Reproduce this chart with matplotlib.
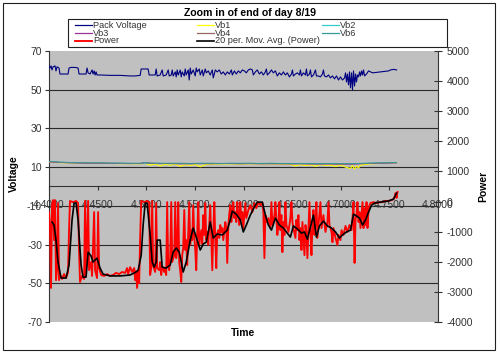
import matplotlib
matplotlib.use("Agg")
import matplotlib.pyplot as plt
from matplotlib.patches import Rectangle
from matplotlib.lines import Line2D
import numpy as np

plt.rcParams['font.family'] = ['Liberation Sans', 'DejaVu Sans']

# ---------------- data (time in days) ----------------
pack_t = [4.4000, 4.4010, 4.4021, 4.4031, 4.4041, 4.4062, 4.4072, 4.4082, 4.4103, 4.4113,
          4.4134, 4.4165, 4.4196, 4.4206, 4.4227, 4.4268, 4.4299, 4.4309, 4.4350, 4.4381,
          4.4391, 4.4402, 4.4422, 4.4443, 4.4453, 4.4464, 4.4474, 4.4484, 4.4494, 4.4525,
          4.4628, 4.4731, 4.4834, 4.4886, 4.4937, 4.4948, 4.4989, 4.5019, 4.5030, 4.5061,
          4.5092, 4.5102, 4.5112, 4.5143, 4.5164, 4.5174, 4.5205, 4.5226, 4.5236, 4.5257,
          4.5267, 4.5277, 4.5298, 4.5308, 4.5318, 4.5329, 4.5349, 4.5360, 4.5370, 4.5391,
          4.5401, 4.5411, 4.5432, 4.5442, 4.5452, 4.5463, 4.5483, 4.5504, 4.5514, 4.5524,
          4.5545, 4.5555, 4.5576, 4.5586, 4.5607, 4.5617, 4.5638, 4.5658, 4.5679, 4.5689,
          4.5710, 4.5730, 4.5751, 4.5772, 4.5792, 4.5813, 4.5833, 4.5854, 4.5875, 4.5885,
          4.5906, 4.5926, 4.5947, 4.5967, 4.5988, 4.6009, 4.6029, 4.6050, 4.6070, 4.6091,
          4.6101, 4.6122, 4.6142, 4.6163, 4.6184, 4.6204, 4.6225, 4.6235, 4.6245, 4.6266,
          4.6287, 4.6307, 4.6328, 4.6348, 4.6369, 4.6390, 4.6410, 4.6431, 4.6451, 4.6472,
          4.6493, 4.6503, 4.6513, 4.6534, 4.6554, 4.6575, 4.6585, 4.6596, 4.6616, 4.6637,
          4.6647, 4.6657, 4.6678, 4.6688, 4.6699, 4.6719, 4.6740, 4.6750, 4.6771, 4.6791,
          4.6812, 4.6822, 4.6832, 4.6853, 4.6874, 4.6894, 4.6915, 4.6936, 4.6956, 4.6977,
          4.6997, 4.7018, 4.7039, 4.7049, 4.7059, 4.7069, 4.7080, 4.7090, 4.7100, 4.7111,
          4.7121, 4.7131, 4.7142, 4.7152, 4.7162, 4.7172, 4.7183, 4.7193, 4.7203, 4.7214,
          4.7224, 4.7234, 4.7245, 4.7265, 4.7286, 4.7327, 4.7409, 4.7492, 4.7512, 4.7543,
          4.7574]
pack_v = [62.3, 61.2, 62.3, 60.2, 61.8, 62.3, 59.7, 61.8, 61.2, 58.1,
          58.1, 58.1, 58.1, 61.2, 61.5, 61.5, 61.2, 58.1, 58.1, 58.1,
          61.2, 58.7, 58.1, 60.2, 58.1, 59.7, 57.6, 59.2, 57.6, 57.6,
          57.4, 57.4, 57.1, 57.1, 57.4, 60.7, 60.7, 60.7, 57.6, 57.6,
          57.6, 60.7, 57.1, 57.6, 60.2, 57.1, 57.6, 60.2, 57.1, 57.6,
          60.2, 57.1, 59.2, 56.6, 60.2, 57.6, 60.2, 56.6, 59.2, 57.1,
          60.7, 57.6, 60.2, 55.0, 61.2, 58.1, 60.2, 57.1, 61.2, 59.2,
          60.7, 57.6, 60.2, 57.1, 60.7, 58.7, 59.7, 57.6, 60.2, 56.1,
          60.2, 59.2, 60.2, 58.1, 59.2, 57.6, 59.2, 58.1, 60.2, 57.6,
          59.7, 58.1, 59.7, 58.7, 60.2, 59.7, 58.7, 60.2, 60.7, 60.2,
          57.6, 59.2, 60.2, 58.1, 59.2, 57.6, 59.2, 60.7, 57.6, 58.7,
          60.2, 58.7, 59.7, 57.1, 58.7, 57.6, 59.2, 57.6, 58.7, 56.6,
          58.1, 60.2, 57.1, 58.1, 58.7, 57.6, 60.2, 57.1, 58.7, 57.6,
          60.7, 57.1, 58.1, 60.2, 56.6, 57.6, 60.2, 57.1, 57.1, 56.6,
          58.1, 60.2, 57.1, 56.6, 57.6, 56.1, 57.1, 55.6, 57.1, 55.0,
          56.6, 55.0, 56.1, 58.7, 54.0, 58.1, 52.5, 59.2, 50.9, 58.7,
          49.9, 59.7, 51.9, 58.1, 54.0, 57.6, 56.6, 59.2, 57.1, 59.7,
          57.6, 60.2, 57.1, 58.1, 59.7, 58.7, 59.2, 59.7, 60.2, 60.5,
          60.2]

vb_t = [4.4000, 4.4113, 4.4216, 4.4319, 4.4422, 4.4525, 4.4628, 4.4731, 4.4834, 4.4937,
        4.4989, 4.5040, 4.5143, 4.5246, 4.5349, 4.5452, 4.5555, 4.5658, 4.5761, 4.5864,
        4.5967, 4.6070, 4.6173, 4.6276, 4.6379, 4.6482, 4.6585, 4.6688, 4.6791, 4.6894,
        4.6997, 4.7100, 4.7203, 4.7306, 4.7409, 4.7512, 4.7574]
vb2 = [12.9, 12.5, 12.3, 12.2, 12.1, 12.1, 12.0, 12.0, 11.9, 11.9, 12.0, 11.9, 11.9, 11.8,
       11.9, 11.8, 11.9, 11.9, 11.8, 11.9, 11.9, 11.9, 11.8, 11.9, 11.8, 11.8, 11.8, 11.8,
       11.7, 11.8, 11.7, 11.7, 11.9, 12.0, 12.1, 12.2, 12.3]
vb3 = [12.7, 12.4, 12.3, 12.1, 12.0, 12.1, 12.0, 11.9, 11.9, 11.8, 12.3, 12.0, 11.9, 11.8,
       11.8, 11.7, 11.9, 11.8, 11.8, 11.9, 11.8, 11.8, 11.7, 11.8, 11.7, 11.7, 11.8, 11.7,
       11.6, 11.7, 11.6, 11.5, 11.8, 11.9, 12.0, 12.1, 12.2]
vb4 = [12.8, 12.4, 12.2, 12.2, 12.0, 12.0, 11.9, 11.9, 11.8, 11.9, 12.4, 11.9, 11.8, 11.9,
       11.7, 11.8, 11.8, 11.7, 11.9, 11.8, 11.7, 11.9, 11.8, 11.7, 11.8, 11.7, 11.7, 11.6,
       11.7, 11.6, 11.5, 11.6, 11.7, 11.9, 12.0, 12.2, 12.3]
vb6 = [13.0, 12.6, 12.4, 12.3, 12.2, 12.2, 12.1, 12.1, 12.0, 12.0, 12.4, 12.1, 12.0, 12.0,
       12.0, 11.9, 12.0, 12.0, 11.9, 12.0, 12.0, 12.0, 11.9, 12.0, 11.9, 11.9, 11.9, 11.9,
       11.8, 11.9, 11.8, 11.8, 11.9, 12.1, 12.2, 12.3, 12.4]

vb1_t = [4.4000, 4.4113, 4.4216, 4.4319, 4.4422, 4.4525, 4.4628, 4.4731, 4.4834, 4.4937,
         4.4989, 4.5040, 4.5092, 4.5143, 4.5195, 4.5246, 4.5298, 4.5349, 4.5401, 4.5452,
         4.5504, 4.5555, 4.5607, 4.5658, 4.5761, 4.5864, 4.5967, 4.6070, 4.6173, 4.6276,
         4.6379, 4.6482, 4.6534, 4.6585, 4.6637, 4.6688, 4.6740, 4.6791, 4.6843, 4.6894,
         4.6946, 4.6997, 4.7049, 4.7100, 4.7121, 4.7142, 4.7162, 4.7183, 4.7203, 4.7255,
         4.7306, 4.7409, 4.7512, 4.7574]
vb1 = [12.6, 12.3, 12.2, 12.0, 11.9, 12.0, 11.9, 11.8, 11.8, 11.7,
       11.9, 11.0, 11.6, 10.6, 11.5, 10.9, 11.6, 10.4, 11.3, 10.8,
       11.4, 10.2, 11.2, 11.5, 11.6, 11.7, 11.6, 11.7, 11.6, 11.7,
       11.5, 11.4, 10.6, 11.3, 10.8, 11.2, 10.4, 11.3, 10.9, 11.0,
       10.3, 11.1, 10.0, 9.3, 10.8, 9.0, 10.5, 9.6, 11.0, 11.4,
       11.7, 11.9, 12.1, 12.2]

power_t = [4.4000, 4.4010, 4.4021, 4.4031, 4.4041, 4.4052, 4.4062, 4.4072, 4.4082, 4.4093,
           4.4103, 4.4113, 4.4134, 4.4155, 4.4175, 4.4196, 4.4206, 4.4216, 4.4247, 4.4278,
           4.4299, 4.4309, 4.4319, 4.4340, 4.4361, 4.4371, 4.4381, 4.4402, 4.4412, 4.4433,
           4.4443, 4.4464, 4.4474, 4.4494, 4.4505, 4.4515, 4.4536, 4.4567, 4.4597, 4.4628,
           4.4659, 4.4690, 4.4721, 4.4752, 4.4783, 4.4803, 4.4814, 4.4834, 4.4855, 4.4876,
           4.4886, 4.4896, 4.4906, 4.4917, 4.4927, 4.4937, 4.4948, 4.4979, 4.5009, 4.5030,
           4.5040, 4.5051, 4.5061, 4.5071, 4.5092, 4.5102, 4.5112, 4.5133, 4.5143, 4.5154,
           4.5164, 4.5185, 4.5195, 4.5205, 4.5215, 4.5226, 4.5236, 4.5246, 4.5257, 4.5267,
           4.5288, 4.5298, 4.5308, 4.5318, 4.5329, 4.5339, 4.5349, 4.5360, 4.5370, 4.5380,
           4.5391, 4.5401, 4.5411, 4.5421, 4.5432, 4.5442, 4.5452, 4.5463, 4.5473, 4.5483,
           4.5494, 4.5504, 4.5514, 4.5524, 4.5535, 4.5545, 4.5555, 4.5566, 4.5576, 4.5586,
           4.5597, 4.5607, 4.5617, 4.5627, 4.5638, 4.5648, 4.5658, 4.5669, 4.5679, 4.5689,
           4.5700, 4.5710, 4.5720, 4.5730, 4.5741, 4.5751, 4.5761, 4.5772, 4.5782, 4.5792,
           4.5803, 4.5813, 4.5823, 4.5833, 4.5844, 4.5854, 4.5864, 4.5875, 4.5885, 4.5895,
           4.5906, 4.5916, 4.5926, 4.5936, 4.5947, 4.5957, 4.5967, 4.5978, 4.5988, 4.5998,
           4.6009, 4.6019, 4.6029, 4.6050, 4.6070, 4.6091, 4.6112, 4.6132, 4.6153, 4.6173,
           4.6194, 4.6204, 4.6215, 4.6225, 4.6235, 4.6256, 4.6276, 4.6287, 4.6297, 4.6318,
           4.6328, 4.6338, 4.6348, 4.6359, 4.6369, 4.6379, 4.6390, 4.6400, 4.6410, 4.6421,
           4.6431, 4.6441, 4.6462, 4.6482, 4.6493, 4.6503, 4.6513, 4.6534, 4.6544, 4.6554,
           4.6565, 4.6575, 4.6585, 4.6596, 4.6606, 4.6616, 4.6627, 4.6637, 4.6647, 4.6657,
           4.6668, 4.6678, 4.6688, 4.6699, 4.6709, 4.6719, 4.6730, 4.6740, 4.6750, 4.6760,
           4.6771, 4.6791, 4.6802, 4.6822, 4.6843, 4.6863, 4.6874, 4.6884, 4.6905, 4.6915,
           4.6925, 4.6946, 4.6966, 4.6977, 4.6997, 4.7008, 4.7028, 4.7049, 4.7069, 4.7090,
           4.7111, 4.7121, 4.7131, 4.7142, 4.7152, 4.7162, 4.7172, 4.7183, 4.7193, 4.7203,
           4.7214, 4.7224, 4.7234, 4.7245, 4.7255, 4.7265, 4.7275, 4.7286, 4.7296, 4.7306,
           4.7337, 4.7368, 4.7399, 4.7430, 4.7461, 4.7492, 4.7523, 4.7543, 4.7553, 4.7564,
           4.7574, 4.7584]
power_w = [-350, -780, -2870, -120, 50, -1280, 50, -2610, -2280, -50,
           -2610, -2440, -2570, -2410, -2540, -2340, -950, 20, -20, 20,
           -50, -1610, -2670, -2470, -2570, 20, -2440, 20, -2280, -2010,
           -2470, -350, -2280, -2540, -350, -2210, -2440, -2470, -2410, -2470,
           -2440, -2370, -2410, -2340, -2370, -2210, -2410, -2180, -2340, -2210,
           -2610, -2310, -2870, -2280, -2710, -1280, 20, -20, 20, -20,
           -2440, -2210, 20, -2140, -2340, -50, -2210, -2280, -2010, -2440,
           -2140, -2340, -2210, -2440, -20, -2140, -2280, -1880, -20, -2010,
           -1780, -20, -1880, -1610, -20, -2010, -2280, -2670, -1780, -1540,
           -280, -1610, -1280, -2110, -1010, -20, -1440, -950, -1280, -120,
           -1150, -1610, -2280, -1110, -20, -1440, -1210, -950, -1410, -450,
           -1110, -50, -1280, -1010, -1440, -780, -120, -1210, -2280, -1010,
           -20, -1280, -2210, -1050, -950, -1210, -780, -1010, -880, -1280,
           -950, -680, -880, -2040, -780, -420, -120, -680, -280, -20,
           -550, -350, -680, -20, -450, -780, -20, -610, -350, -880,
           -450, -50, -550, -280, -120, -350, -50, -220, -20, -120,
           -50, -350, -1880, -450, -680, -550, -880, -20, -780, -450,
           -20, -550, -1110, -780, -20, -950, -450, -1680, -680, -1110,
           -20, -780, -1010, -550, -20, -680, -880, -1210, -610, -950,
           -450, -1280, -880, -1610, -680, -1210, -1780, -780, -1010, -1880,
           -880, -20, -1010, -1780, -780, -280, -1110, -610, -20, -1210,
           -780, -20, -880, -450, -1010, -680, -20, -780, -1010, -1350,
           -880, -1210, -1440, -1110, -1280, -950, -1110, -810, -1010, -780,
           -950, -550, -20, -2040, -610, -420, -20, -680, -350, -880,
           -450, -20, -880, -220, -780, -20, -880, -280, -120, -50,
           -20, -50, -20, -20, 20, 20, 50, 80, 150, 280,
           120, 320]

ma_t = [4.4031, 4.4052, 4.4072, 4.4093, 4.4124, 4.4175, 4.4206, 4.4237, 4.4258, 4.4278,
        4.4299, 4.4330, 4.4350, 4.4381, 4.4402, 4.4433, 4.4453, 4.4474, 4.4494, 4.4525,
        4.4556, 4.4628, 4.4731, 4.4834, 4.4896, 4.4917, 4.4948, 4.4968, 4.4989, 4.5009,
        4.5040, 4.5061, 4.5082, 4.5102, 4.5112, 4.5143, 4.5164, 4.5205, 4.5246, 4.5277,
        4.5308, 4.5339, 4.5360, 4.5380, 4.5411, 4.5452, 4.5483, 4.5514, 4.5555, 4.5586,
        4.5617, 4.5658, 4.5689, 4.5730, 4.5782, 4.5833, 4.5864, 4.5885, 4.5926, 4.5967,
        4.5998, 4.6029, 4.6070, 4.6112, 4.6142, 4.6194, 4.6225, 4.6256, 4.6287, 4.6328,
        4.6369, 4.6410, 4.6441, 4.6482, 4.6513, 4.6554, 4.6596, 4.6627, 4.6657, 4.6688,
        4.6719, 4.6750, 4.6781, 4.6822, 4.6863, 4.6905, 4.6946, 4.6987, 4.7018, 4.7059,
        4.7100, 4.7131, 4.7162, 4.7193, 4.7224, 4.7255, 4.7286, 4.7317, 4.7348, 4.7409,
        4.7492, 4.7543, 4.7574]
ma_w = [-680, -780, -1280, -2010, -2540, -2540, -2110, -610, -50, -50,
        -610, -2110, -2510, -2510, -1680, -1810, -2010, -1940, -1880, -2210,
        -2410, -2470, -2470, -2440, -2340, -2280, -1780, -780, -50, -50,
        -1110, -2010, -2180, -2010, -1280, -1280, -2180, -2210, -2110, -1680,
        -1540, -1680, -2010, -2340, -2010, -1280, -880, -1180, -1610, -1410,
        -1350, -680, -1210, -1080, -1110, -950, -610, -320, -420, -610,
        -1010, -780, -450, -180, -20, -20, -450, -780, -950, -550,
        -780, -880, -1010, -1180, -810, -910, -1050, -1010, -1250, -850,
        -450, -1180, -810, -650, -810, -880, -1010, -1210, -1110, -1010,
        -950, -420, -480, -550, -780, -610, -350, -120, -50, -20,
        20, 80, 280]

x_ticks = [4.40, 4.45, 4.50, 4.55, 4.60, 4.65, 4.70, 4.75, 4.80]
v_ticks = [-70, -50, -30, -10, 10, 30, 50, 70]
p_ticks = [-4000, -3000, -2000, -1000, 0, 1000, 2000, 3000, 4000, 5000]
grid_levels = [-50, -30, -10, 10, 30, 50]

# ---------------- figure ----------------
fig = plt.figure(figsize=(5.0, 3.55), dpi=100)
fig.patch.set_facecolor('white')
fig.patches.append(Rectangle((0.006, 0.0141), 0.984, 0.9775, transform=fig.transFigure,
                             fill=False, edgecolor='#202020', linewidth=0.8))

ax = fig.add_axes([0.098, 0.093, 0.778, 0.7634])
ax.set_facecolor('#C0C0C0')
ax2 = ax.twinx()
ax2.patch.set_visible(False)

for g in grid_levels:
    ax.axhline(g, color='#2a2a2a', lw=0.8, zorder=1)

tc = '#333333'
fs = 7.5
l_vb1, = ax.plot(vb1_t, vb1, color='#FFFF00', lw=0.8, zorder=3)
l_vb2, = ax.plot(vb_t, vb2, color='#33CCCC', lw=0.7, zorder=3)
l_vb3, = ax.plot(vb_t, vb3, color='#993399', lw=0.7, zorder=3)
l_vb4, = ax.plot(vb_t, vb4, color='#996666', lw=0.7, zorder=3)
l_vb6, = ax.plot(vb_t, vb6, color='#339999', lw=0.7, zorder=3)
l_pack, = ax.plot(pack_t, pack_v, color='#000080', lw=0.8, zorder=4)

l_pow, = ax2.plot(power_t, power_w, color='#FF0000', lw=1.35, zorder=3)
l_ma, = ax2.plot(ma_t, ma_w, color='#000000', lw=1.2, zorder=4)

ax.set_xlim(4.40, 4.80)
ax.set_ylim(-70, 70)
ax2.set_ylim(-4000, 5000)

ax.set_xticks(x_ticks)
ax.set_xticklabels(['%.4f' % v for v in x_ticks])
ax.set_yticks(v_ticks)
ax.set_yticklabels([str(v) for v in v_ticks])
ax2.set_yticks(p_ticks)
ax2.set_yticklabels([str(v) for v in p_ticks])

ax.spines['top'].set_visible(False)
ax.spines['right'].set_visible(False)
ax.spines['bottom'].set_position(('data', 0))
ax.spines['bottom'].set_color('#333333')
ax.spines['left'].set_color('#333333')
for s in ['top', 'left', 'bottom']:
    ax2.spines[s].set_visible(False)
ax2.spines['right'].set_color('#333333')

ax.tick_params(axis='x', direction='out', length=3, pad=7, labelsize=fs, labelcolor=tc, color='#333333')
ax.tick_params(axis='y', direction='out', length=3, pad=2, labelsize=fs, labelcolor=tc, color='#333333')
ax2.tick_params(axis='y', direction='inout', length=6, pad=3, labelsize=fs, labelcolor=tc, color='#333333')

fig.text(0.028, 0.51, 'Voltage', rotation=90, ha='center', va='center', fontsize=fs, fontweight='bold')
fig.text(0.966, 0.475, 'Power', rotation=90, ha='center', va='center', fontsize=fs, fontweight='bold')
fig.text(0.486, 0.062, 'Time', ha='center', va='center', fontsize=fs, fontweight='bold')
fig.text(0.5, 0.962, 'Zoom in of end of day 8/19', ha='center', va='center', fontsize=7.6, fontweight='bold')

# ---------------- legend (fixed equal-width columns like the original) ----------------
fig.patches.append(Rectangle((0.136, 0.8676), 0.758, 0.0789, transform=fig.transFigure,
                             facecolor='white', edgecolor='#202020', linewidth=0.8, zorder=5))
legend_items = [
    (l_pack, 'Pack Voltage', 0, 0), (l_vb1, 'Vb1', 1, 0), (l_vb2, 'Vb2', 2, 0),
    (l_vb3, 'Vb3', 0, 1), (l_vb4, 'Vb4', 1, 1), (l_vb6, 'Vb6', 2, 1),
    (l_pow, 'Power', 0, 2), (l_ma, '20 per. Mov. Avg. (Power)', 1, 2),
]
col_x = [0.150, 0.394, 0.644]
row_y = [0.9282, 0.9070, 0.8859]
for h, lab, c, r in legend_items:
    x0 = col_x[c]
    y0 = row_y[r]
    fig.add_artist(Line2D([x0, x0 + 0.034], [y0, y0], transform=fig.transFigure,
                          color=h.get_color(), lw=max(h.get_linewidth(), 0.9), zorder=6))
    fig.text(x0 + 0.036, y0, lab, ha='left', va='center', fontsize=6.6, color='#333333', zorder=6)

fig.savefig('out.png', dpi=100)
